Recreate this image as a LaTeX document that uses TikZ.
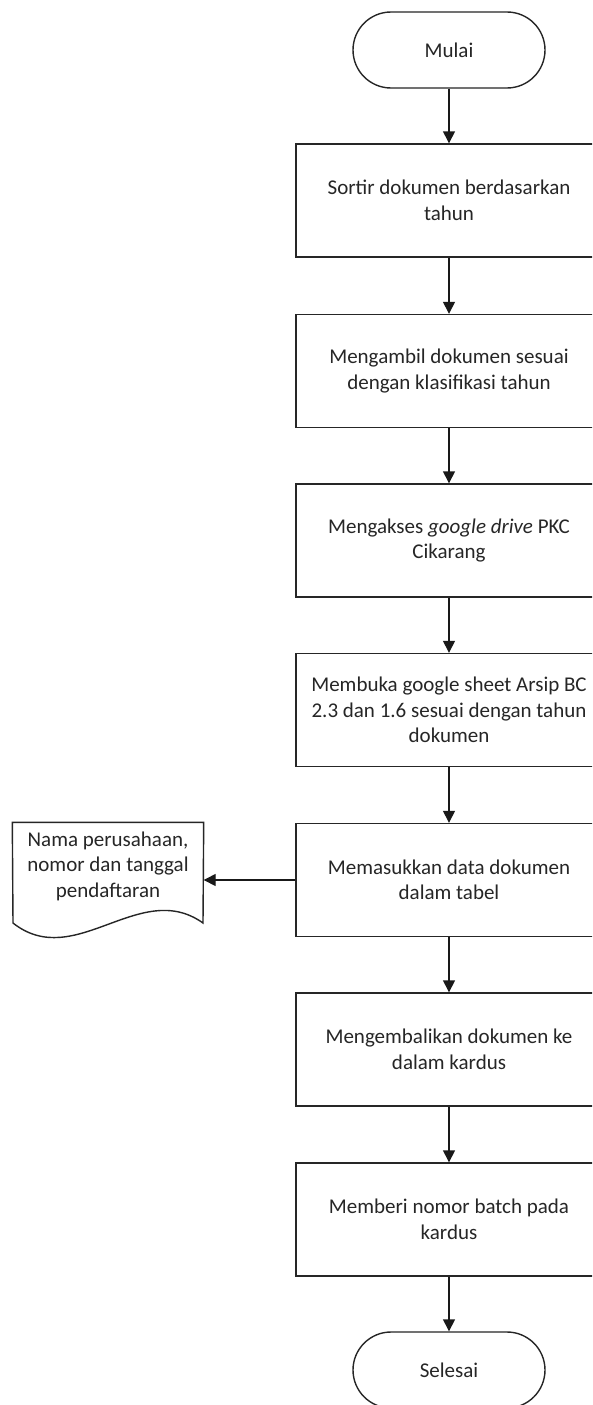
\documentclass[tikz,border=0pt]{standalone}
\usepackage{fontspec}
\setmainfont{Carlito}
\usetikzlibrary{arrows.meta}
\begin{document}
\begin{tikzpicture}[x=1pt,y=-1pt,
  line width=1.4pt,
  txt/.style={font=\fontsize{21}{25.5}\selectfont, text=black!85, align=center},
  stepbox/.style={txt, draw=black!85, rectangle, minimum width=306pt, minimum height=113pt, inner sep=0pt},
  term/.style={txt, draw=black!85, rectangle, rounded corners=38pt, minimum width=192pt, minimum height=76pt, inner sep=0pt},
  arr/.style={draw=black!90, -{Triangle[length=12pt,width=12pt]}}
]
\useasboundingbox (0,0) rectangle (592,1405);
\clip (0,0) rectangle (592,1405);
\fill[white] (0,0) rectangle (592,1405);

\node[term] (mulai) at (449,50) {Mulai};
\node[stepbox] (b1) at (449,200.5) {Sortir dokumen berdasarkan\\tahun};
\node[stepbox] (b2) at (449,371) {Mengambil dokumen sesuai\\dengan klasifikasi tahun};
\node[stepbox] (b3) at (449,540.5) {Mengakses \textit{google drive} PKC\\Cikarang};
\node[stepbox] (b4) at (449,710) {Membuka google sheet Arsip BC\\2.3 dan 1.6 sesuai dengan tahun\\dokumen};
\node[stepbox] (b5) at (449,880) {Memasukkan data dokumen\\dalam tabel};
\node[stepbox] (b6) at (449,1049.5) {Mengembalikan dokumen ke\\dalam kardus};
\node[stepbox] (b7) at (449,1219.5) {Memberi nomor batch pada\\kardus};
\node[term] (selesai) at (449,1370) {Selesai};

% document shape
\node[txt, minimum width=190pt, minimum height=86pt, inner sep=0pt] (doc) at (108,866) {Nama perusahaan,\\nomor dan tanggal\\pendaftaran};
\draw[draw=black!85] (13,923) -- (doc.north west) -- (doc.north east) -- (203,923)
  .. controls (140,878) and (75,972) .. (13,923) -- cycle;

\draw[arr] (mulai) -- (b1);
\draw[arr] (b1) -- (b2);
\draw[arr] (b2) -- (b3);
\draw[arr] (b3) -- (b4);
\draw[arr] (b4) -- (b5);
\draw[arr] (b5) -- (b6);
\draw[arr] (b6) -- (b7);
\draw[arr] (b7) -- (selesai);
\draw[arr] (b5.west) -- (doc.east |- b5.west);
\end{tikzpicture}
\end{document}
